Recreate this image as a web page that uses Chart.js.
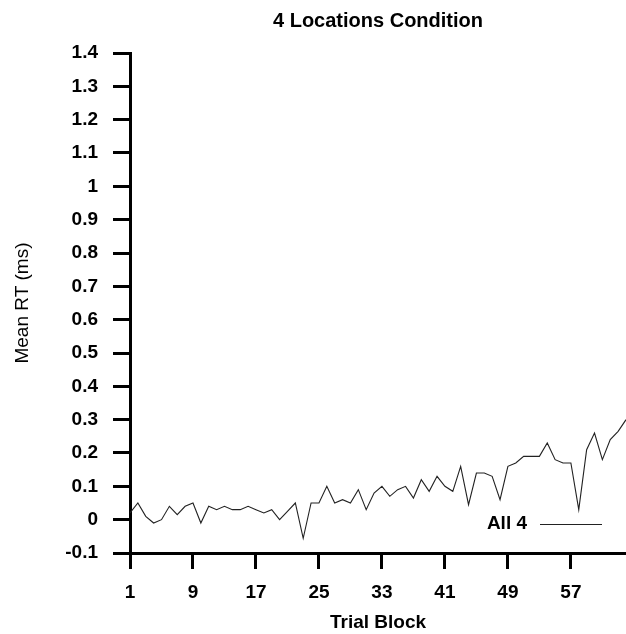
<!DOCTYPE html>
<html>
<head>
<meta charset="utf-8">
<script src="https://cdn.jsdelivr.net/npm/chart.js@4/dist/chart.umd.min.js"></script>
<style>
html,body{margin:0;padding:0;background:#fff;}
#wrap{width:626px;height:634px;position:relative;}
</style>
</head>
<body>
<div id="wrap"><canvas id="c"></canvas></div>
<script>
const chartTitle = "4 Locations Condition";
const xTitle = "Trial Block";
const yTitle = "Mean RT (ms)";
const seriesLabel = "All 4";
const blocks = [1,2,3,4,5,6,7,8,9,10,11,12,13,14,15,16,17,18,19,20,21,22,23,24,25,26,27,28,29,30,31,32,33,34,35,36,37,38,39,40,41,42,43,44,45,46,47,48,49,50,51,52,53,54,55,56,57,58,59,60,61,62,63,64];
const meanRT = [0.02,0.05,0.01,-0.01,0.0,0.04,0.015,0.04,0.05,-0.01,0.04,0.03,0.04,0.03,0.03,0.04,0.03,0.02,0.03,0.0,0.025,0.05,-0.056,0.05,0.05,0.10,0.05,0.06,0.05,0.09,0.03,0.08,0.10,0.07,0.09,0.10,0.065,0.12,0.085,0.13,0.10,0.085,0.16,0.045,0.14,0.14,0.13,0.06,0.16,0.17,0.19,0.19,0.19,0.23,0.18,0.17,0.17,0.03,0.21,0.26,0.18,0.24,0.265,0.30];
const xTicks = [1,9,17,25,33,41,49,57];
const yTicks = [-0.1,0,0.1,0.2,0.3,0.4,0.5,0.6,0.7,0.8,0.9,1,1.1,1.2,1.3,1.4];

const FONT = "'Liberation Sans', Arial, Helvetica, sans-serif";

const legendPlugin = {
  id: 'insideLegend',
  afterDatasetsDraw(chart) {
    const {ctx, chartArea} = chart;
    const ds = chart.data.datasets[0];
    const y = chartArea.bottom - 29;
    ctx.save();
    ctx.font = "bold 19px " + FONT;
    ctx.fillStyle = '#000';
    ctx.textAlign = 'right';
    ctx.textBaseline = 'middle';
    ctx.fillText(ds.label, chartArea.right - 99, y);
    ctx.strokeStyle = ds.borderColor;
    ctx.lineWidth = 1;
    ctx.beginPath();
    ctx.moveTo(chartArea.right - 86, y + 0.5);
    ctx.lineTo(chartArea.right - 24, y + 0.5);
    ctx.stroke();
    ctx.restore();
  }
};

new Chart(document.getElementById('c'), {
  type: 'line',
  data: {
    datasets: [{
      label: seriesLabel,
      data: blocks.map((b, i) => ({x: b, y: meanRT[i]})),
      borderColor: '#222',
      borderWidth: 1.1,
      pointRadius: 0,
      tension: 0,
      fill: false
    }]
  },
  options: {
    responsive: true,
    maintainAspectRatio: false,
    animation: false,
    layout: {padding: {left: 0, right: 0, top: 0, bottom: 0}},
    plugins: {
      legend: {display: false},
      tooltip: {enabled: false},
      title: {
        display: true,
        text: chartTitle,
        fullSize: false,
        color: '#000',
        font: {family: FONT, size: 20, weight: 'bold'},
        padding: {top: 9, bottom: 20}
      }
    },
    scales: {
      x: {
        type: 'linear',
        min: 1,
        max: 64,
        afterBuildTicks: (s) => { s.ticks = xTicks.map(v => ({value: v})); },
        afterFit: (s) => { s.height = 81; },
        border: {display: true, color: '#000', width: 3},
        grid: {drawOnChartArea: false, drawTicks: true, tickLength: 16, tickWidth: 3, tickColor: '#000'},
        ticks: {color: '#000', padding: 12, font: {family: FONT, size: 19, weight: 'bold'}, maxRotation: 0, autoSkip: false},
        title: {display: true, text: xTitle, color: '#000', font: {family: FONT, size: 19, weight: 'bold'}, padding: {top: 0, bottom: 0}}
      },
      y: {
        type: 'linear',
        min: -0.1,
        max: 1.4,
        afterBuildTicks: (s) => { s.ticks = yTicks.map(v => ({value: v})); },
        afterFit: (s) => { s.width = 130; },
        border: {display: true, color: '#000', width: 3},
        grid: {drawOnChartArea: false, drawTicks: true, tickLength: 17, tickWidth: 3, tickColor: '#000'},
        ticks: {color: '#000', padding: 15, font: {family: FONT, size: 19, weight: 'bold'},
          callback: (v) => String(Math.round(v * 10) / 10)},
        title: {display: true, text: yTitle, color: '#000', font: {family: FONT, size: 19}, padding: {top: 11, bottom: 0}}
      }
    }
  },
  plugins: [legendPlugin]
});
</script>
</body>
</html>
